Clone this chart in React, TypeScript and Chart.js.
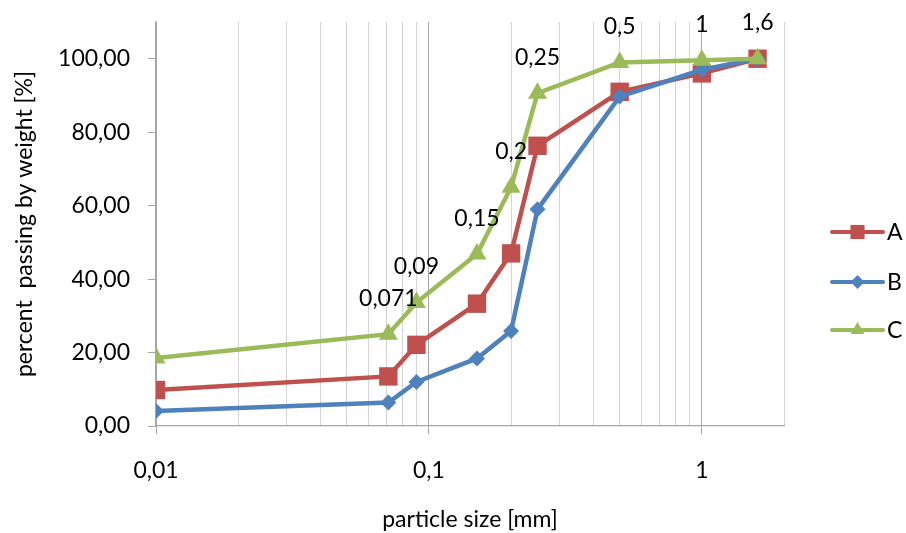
import React, { useEffect, useRef } from 'react';
import { Chart, registerables } from 'chart.js';

Chart.register(...registerables);

// ---- data ----
const particleSizes = [0.01, 0.071, 0.09, 0.15, 0.2, 0.25, 0.5, 1, 1.6];
const seriesA = [9.8, 13.5, 22.1, 33.3, 47.0, 76.3, 91.0, 96.0, 100];
const seriesB = [4.1, 6.4, 12.0, 18.4, 25.9, 59.0, 89.7, 97.0, 100];
const seriesC = [18.5, 25.0, 33.6, 46.8, 65.0, 90.6, 99.0, 99.6, 100];
const pointLabelsC = ['', '0,071', '0,09', '0,15', '0,2', '0,25', '0,5', '1', '1,6'];
const seriesNames = ['A', 'B', 'C'];
const xGridTicks = [
  0.01, 0.02, 0.03, 0.04, 0.05, 0.06, 0.07, 0.08, 0.09,
  0.1, 0.2, 0.3, 0.4, 0.5, 0.6, 0.7, 0.8, 0.9,
  1, 2,
];
const xLabelTicks = [0.01, 0.1, 1];
const yTicks = [0, 20, 40, 60, 80, 100];

const colors = { A: '#C0504D', B: '#4F81BD', C: '#9BBB59' };
const FONT = 'Lato, "Open Sans", sans-serif';
const FS = 23;

const isMajorX = (v: number) => xLabelTicks.some((t) => Math.abs(t - v) < 1e-9);

const pts = (ys: number[]) => particleSizes.map((x, i) => ({ x, y: ys[i] }));

const labelPlugin = {
  id: 'cLabels',
  afterDatasetsDraw(chart: any) {
    const ctx = chart.ctx;
    const meta = chart.getDatasetMeta(2);
    ctx.save();
    ctx.font = `${FS}px ${FONT}`;
    ctx.fillStyle = '#000';
    ctx.textAlign = 'center';
    ctx.textBaseline = 'middle';
    meta.data.forEach((el: any, i: number) => {
      const t = pointLabelsC[i];
      if (!t) return;
      ctx.fillText(t, el.x, el.y - 36);
    });
    ctx.restore();
  },
};

function drawMarker(ctx: CanvasRenderingContext2D, style: string, r: number, x: number, y: number) {
  ctx.beginPath();
  if (style === 'rect') {
    const s = r * Math.SQRT1_2;
    ctx.rect(x - s, y - s, 2 * s, 2 * s);
  } else if (style === 'rectRot') {
    ctx.moveTo(x, y - r);
    ctx.lineTo(x + r, y);
    ctx.lineTo(x, y + r);
    ctx.lineTo(x - r, y);
    ctx.closePath();
  } else {
    ctx.moveTo(x, y - r);
    ctx.lineTo(x + r * 0.866, y + r * 0.5);
    ctx.lineTo(x - r * 0.866, y + r * 0.5);
    ctx.closePath();
  }
  ctx.fill();
}

const legendPlugin = {
  id: 'customLegend',
  afterDraw(chart: any) {
    const ctx = chart.ctx;
    const area = chart.chartArea;
    const styles = ['rect', 'rectRot', 'triangle'];
    const radii = [10, 7, 8];
    const cols = [colors.A, colors.B, colors.C];
    const offs = [210, 260, 308];
    ctx.save();
    seriesNames.forEach((name, i) => {
      const y = area.top + offs[i];
      const x0 = area.right + 48;
      const x1 = area.right + 99;
      ctx.strokeStyle = cols[i];
      ctx.lineWidth = 4;
      ctx.lineCap = 'round';
      ctx.beginPath();
      ctx.moveTo(x0, y);
      ctx.lineTo(x1, y);
      ctx.stroke();
      ctx.fillStyle = cols[i];
      drawMarker(ctx, styles[i], radii[i], (x0 + x1) / 2, y);
      ctx.fillStyle = '#000';
      ctx.font = `${FS}px ${FONT}`;
      ctx.textAlign = 'left';
      ctx.textBaseline = 'middle';
      ctx.fillText(name, x1 + 4, y + 1);
    });
    ctx.restore();
  },
};

export default function App() {
  const ref = useRef<HTMLCanvasElement | null>(null);

  useEffect(() => {
    if (!ref.current) return;
    const mk = (label: string, data: number[], color: string, style: string, r: number, order: number) => ({
      label,
      data: pts(data),
      borderColor: color,
      backgroundColor: color,
      borderWidth: 4.5,
      pointStyle: style,
      pointRadius: r,
      pointBorderWidth: 0,
      pointBackgroundColor: color,
      tension: 0,
      order,
    });
    const chart = new Chart(ref.current, {
      type: 'line',
      data: {
        datasets: [
          mk('A', seriesA, colors.A, 'rect', 13, 3),
          mk('B', seriesB, colors.B, 'rectRot', 8, 2),
          mk('C', seriesC, colors.C, 'triangle', 11, 1),
        ] as any,
      },
      options: {
        animation: false,
        responsive: true,
        maintainAspectRatio: false,
        layout: { padding: { left: 0, top: 22, right: 122, bottom: 0 } },
        plugins: {
          legend: { display: false },
          tooltip: { enabled: false },
        },
        scales: {
          x: {
            type: 'logarithmic',
            min: 0.01,
            max: 2,
            afterBuildTicks: (scale: any) => {
              scale.ticks = xGridTicks.map((v) => ({ value: v, major: isMajorX(v) }));
            },
            afterFit: (scale: any) => {
              scale.height = 107;
              scale.paddingLeft = 0;
              scale.paddingRight = 0;
            },
            ticks: {
              autoSkip: false,
              maxRotation: 0,
              minRotation: 0,
              padding: 23,
              color: '#000',
              font: { family: FONT, size: FS },
              callback: (v: any) => {
                const n = Number(v);
                return isMajorX(n) ? String(n).replace('.', ',') : '';
              },
            },
            grid: {
              drawOnChartArea: true,
              tickLength: 8,
              lineWidth: 1,
              color: (c: any) => (c.tick && isMajorX(c.tick.value) ? '#A6A6A6' : '#D4D4D4'),
              tickColor: (c: any) => (c.tick && isMajorX(c.tick.value) ? '#A6A6A6' : 'rgba(0,0,0,0)'),
            },
            border: { display: true, color: '#A6A6A6', width: 1.3 },
            title: {
              display: true,
              text: 'particle size [mm]',
              color: '#000',
              font: { family: FONT, size: FS },
              padding: { top: 0, bottom: 0 },
            },
          },
          y: {
            type: 'linear',
            min: 0,
            max: 110,
            afterBuildTicks: (scale: any) => {
              scale.ticks = yTicks.map((v) => ({ value: v }));
            },
            afterFit: (scale: any) => {
              scale.width = 156;
              scale.paddingTop = 0;
              scale.paddingBottom = 0;
            },
            ticks: {
              padding: 18,
              color: '#000',
              font: { family: FONT, size: FS },
              callback: (v: any) => Number(v).toFixed(2).replace('.', ','),
            },
            grid: {
              drawOnChartArea: false,
              drawTicks: true,
              tickLength: 8,
              color: '#A6A6A6',
              tickColor: '#A6A6A6',
            },
            border: { display: true, color: '#A6A6A6', width: 1.3 },
            title: {
              display: true,
              text: 'percent  passing by weight [%]',
              color: '#000',
              font: { family: FONT, size: FS },
              padding: { top: 11, bottom: 0 },
            },
          },
        },
      } as any,
      plugins: [labelPlugin, legendPlugin],
    });
    return () => chart.destroy();
  }, []);

  return (
    <div style={{ position: 'absolute', left: 0, top: 0, width: 906, height: 533, background: '#fff' }}>
      <canvas ref={ref} />
    </div>
  );
}
